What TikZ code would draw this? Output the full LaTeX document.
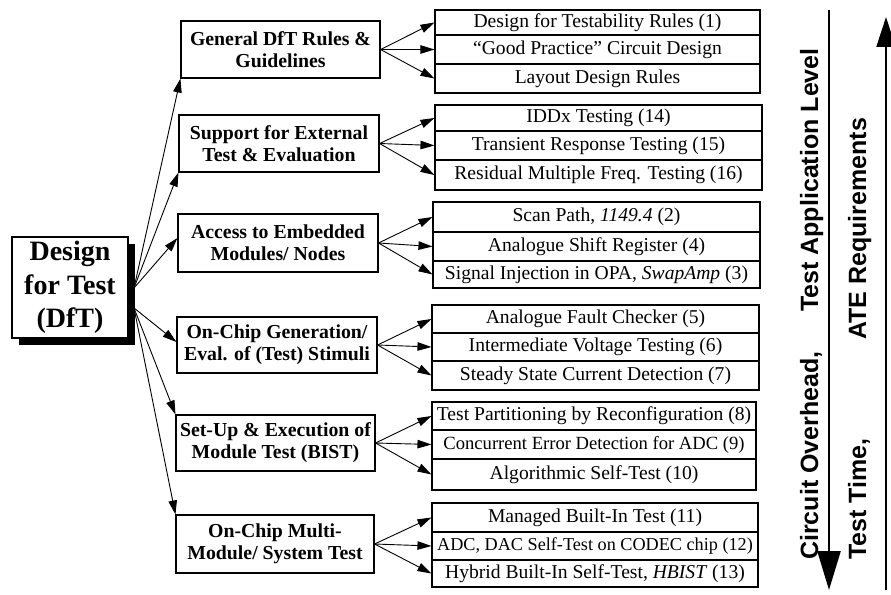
\documentclass[tikz,border=0pt]{standalone}
\usepackage{fontspec}
\setmainfont{Liberation Serif}
\newfontfamily\hv{Liberation Sans}
\usetikzlibrary{arrows.meta}
\begin{document}
\begin{tikzpicture}[x=1pt,y=-1pt,
  mid/.style={draw, line width=1.1pt, font=\bfseries\fontsize{19.8}{22}\selectfont, align=center, inner sep=0pt},
  cell/.style={draw, line width=1.1pt, inner sep=0pt, font=\fontsize{19.6}{22}\selectfont},
  arr/.style={line width=0.9pt, -{Triangle[length=14pt,width=8.5pt]}},
  side/.style={font=\hv\bfseries\fontsize{25}{28}\selectfont, rotate=90, anchor=base west, inner sep=0pt}]
\useasboundingbox (0,0) rectangle (891,594);
% root
\fill (19,244) rectangle (135,345);
\node[draw, fill=white, line width=1.1pt, minimum width=116pt, minimum height=101pt, inner sep=0pt, align=center,
  font=\bfseries\fontsize{28}{33.5}\selectfont] (root) at (70,287.5) {Design\\for Test\\(DfT)};
\coordinate (ra) at (134,288);
\coordinate (rb) at (134,308);
% middle boxes
\node[mid, minimum width=199pt, minimum height=57pt] (m1) at (280.5,49.5) {General DfT Rules \&\\Guidelines};
\node[mid, minimum width=200pt, minimum height=57pt] (m2) at (279,143.5) {Support for External\\Test \& Evaluation};
\node[mid, minimum width=200pt, minimum height=58pt] (m3) at (278,243) {Access to Embedded\\Modules/ Nodes};
\node[mid, minimum width=200pt, minimum height=56pt] (m4) at (277,345) {On-Chip Generation/\\Eval. of (Test) Stimuli};
\node[mid, minimum width=199pt, minimum height=56pt] (m5) at (275.5,443) {Set-Up \& Execution of\\Module Test (BIST)};
\node[mid, minimum width=198pt, minimum height=58pt] (m6) at (275,544) {On-Chip Multi-\\Module/ System Test};
% right cells
\node[cell, minimum width=325pt, minimum height=25pt] (g1a) at (597.5,22.5) {Design for Testability Rules (1)};
\node[cell, minimum width=325pt, minimum height=29pt] (g1b) at (597.5,49.5) {``Good Practice'' Circuit Design};
\node[cell, minimum width=325pt, minimum height=29pt] (g1c) at (597.5,78.5) {Layout Design Rules};
\node[cell, minimum width=327pt, minimum height=26pt] (g2a) at (598.5,118) {IDDx Testing (14)};
\node[cell, minimum width=327pt, minimum height=29pt] (g2b) at (598.5,145.5) {Transient Response Testing (15)};
\node[cell, minimum width=327pt, minimum height=30pt] (g2c) at (598.5,175) {Residual Multiple Freq. Testing (16)};
\node[cell, minimum width=327pt, minimum height=30pt] (g3a) at (596.5,217) {Scan Path, \textit{1149.4} (2)};
\node[cell, minimum width=327pt, minimum height=29pt] (g3b) at (596.5,246.5) {Analogue Shift Register (4)};
\node[cell, minimum width=327pt, minimum height=27pt] (g3c) at (596.5,274.5) {Signal Injection in OPA, \textit{SwapAmp} (3)};
\node[cell, minimum width=327pt, minimum height=28pt] (g4a) at (595.5,319) {Analogue Fault Checker (5)};
\node[cell, minimum width=327pt, minimum height=28pt] (g4b) at (595.5,347) {Intermediate Voltage Testing (6)};
\node[cell, minimum width=327pt, minimum height=29pt] (g4c) at (595.5,375.5) {Steady State Current Detection (7)};
\node[cell, minimum width=324pt, minimum height=28pt] (g5a) at (594,416) {Test Partitioning by Reconfiguration (8)};
\node[cell, minimum width=324pt, minimum height=29pt, font=\fontsize{18.6}{21}\selectfont] (g5b) at (594,444.5) {Concurrent Error Detection for ADC (9)};
\node[cell, minimum width=324pt, minimum height=31pt] (g5c) at (594,474.5) {Algorithmic Self-Test (10)};
\node[cell, minimum width=326pt, minimum height=29pt] (g6a) at (595,517.5) {Managed Built-In Test (11)};
\node[cell, minimum width=326pt, minimum height=28pt, font=\fontsize{18.2}{21}\selectfont] (g6b) at (595,546) {ADC, DAC Self-Test on CODEC chip (12)};
\node[cell, minimum width=326pt, minimum height=27pt] (g6c) at (595,573.5) {Hybrid Built-In Self-Test, \textit{HBIST} (13)};
% root arrows
\draw[arr] (ra) -- (m1.south west);
\draw[arr] (ra) -- (m2.south west);
\draw[arr] (ra) -- ([yshift=5pt]m3.west);
\draw[arr] (rb) -- ([yshift=3pt]m4.west);
\draw[arr] (rb) -- (m5.north west);
\draw[arr] (rb) -- (m6.north west);
% fan arrows
\foreach \m/\g in {m1/g1,m2/g2,m3/g3,m4/g4,m5/g5,m6/g6}{
  \draw[arr] (\m.east) -- (\g a.west);
  \draw[arr] (\m.east) -- (\g b.west);
  \draw[arr] (\m.east) -- (\g c.west);
}
% side arrows
\coordinate (dtop) at (829,10);
\coordinate (dbot) at (829,590);
\coordinate (ubot) at (886,590);
\coordinate (utop) at (886,17);
\draw[line width=2.5pt, -{Triangle[length=39pt,width=23pt]}] (dtop) -- (dbot);
\draw[line width=2.2pt, -{Triangle[length=30pt,width=19pt]}] (ubot) -- (utop);
\node[side] (t1) at (818,560) {Circuit Overhead,};
\node[side] (t2) at (818,312) {Test Application Level};
\node[side] (t3) at (866,560) {Test Time,};
\node[side] (t4) at (866,340) {ATE Requirements};
\end{tikzpicture}
\end{document}
